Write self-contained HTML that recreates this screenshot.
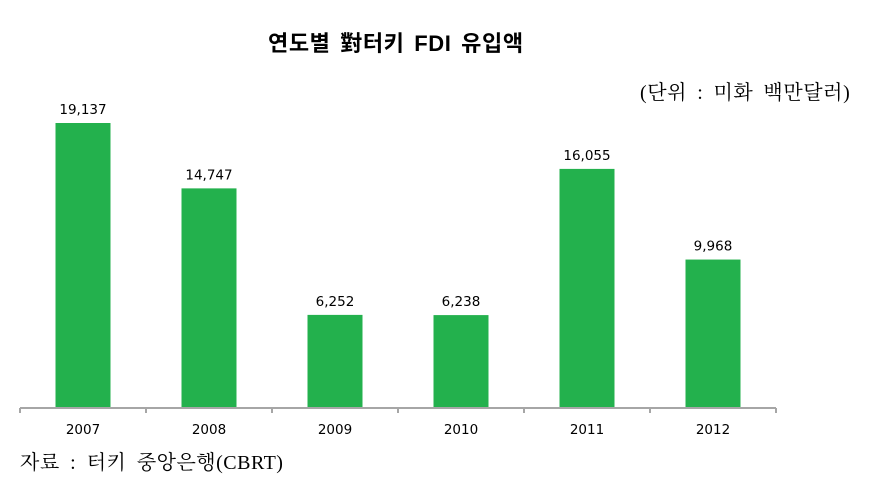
<!DOCTYPE html>
<html><head><meta charset="utf-8"><style>
body{margin:0;background:#fff;width:871px;height:495px;overflow:hidden;position:relative}
.t{position:absolute;white-space:nowrap}
</style></head><body>
<div class="t" style="left:268px;top:26px;font:bold 22px 'Liberation Sans','Noto Sans CJK KR',sans-serif;color:#000;letter-spacing:0.6px;word-spacing:3px">연도별 對터키 FDI 유입액</div>
<div class="t" style="left:640px;top:76px;font:20px 'Liberation Serif','Noto Serif CJK SC',serif;color:#000;letter-spacing:0.6px;word-spacing:4.5px">(단위 : 미화 백만달러)</div>
<div class="t" style="left:20px;top:446px;font:20px 'Liberation Serif','Noto Serif CJK SC',serif;color:#000;letter-spacing:0.5px;word-spacing:5px">자료 : 터키 중앙은행(CBRT)</div>
<svg id="c" width="871" height="495" style="position:absolute;left:0;top:0"></svg>
<script>
const categories=["2007","2008","2009","2010","2011","2012"];
const values=[19137,14747,6252,6238,16055,9968];
const valueLabels=["19,137","14,747","6,252","6,238","16,055","9,968"];
const svg=document.getElementById('c');const NS='http://www.w3.org/2000/svg';
const x0=20,band=126,y0=408,k=285/19137;
const xs=i=>x0+band*i+band/2, ys=v=>y0-v*k;
function mk(t,a){const e=document.createElementNS(NS,t);for(const n in a)e.setAttribute(n,a[n]);svg.appendChild(e);return e;}
values.forEach((v,i)=>{
 const r=mk('rect',{x:xs(i)-27.5,y:ys(v),width:55,height:y0-ys(v),fill:'#23b14d'});
 
 
 const t=mk('text',{x:xs(i),y:ys(v)-9,'text-anchor':'middle','font-size':'13.5','font-family':'DejaVu Sans, sans-serif',fill:'#000'});
 t.textContent=valueLabels[i];
 
 
 const c=mk('text',{x:xs(i),y:434,'text-anchor':'middle','font-size':'13.5','font-family':'DejaVu Sans, sans-serif',fill:'#000'});
 c.textContent=categories[i];
 
 
});
const ax=mk('line',{x1:x0,x2:x0+band*categories.length,y1:y0,y2:y0,stroke:'#a6a6a6','stroke-width':2});


for(let i=0;i<=categories.length;i++){
 const tk=mk('line',{x1:x0+band*i,x2:x0+band*i,y1:y0,y2:y0+5,stroke:'#a6a6a6','stroke-width':2});
 
 
}
</script>
</body></html>
